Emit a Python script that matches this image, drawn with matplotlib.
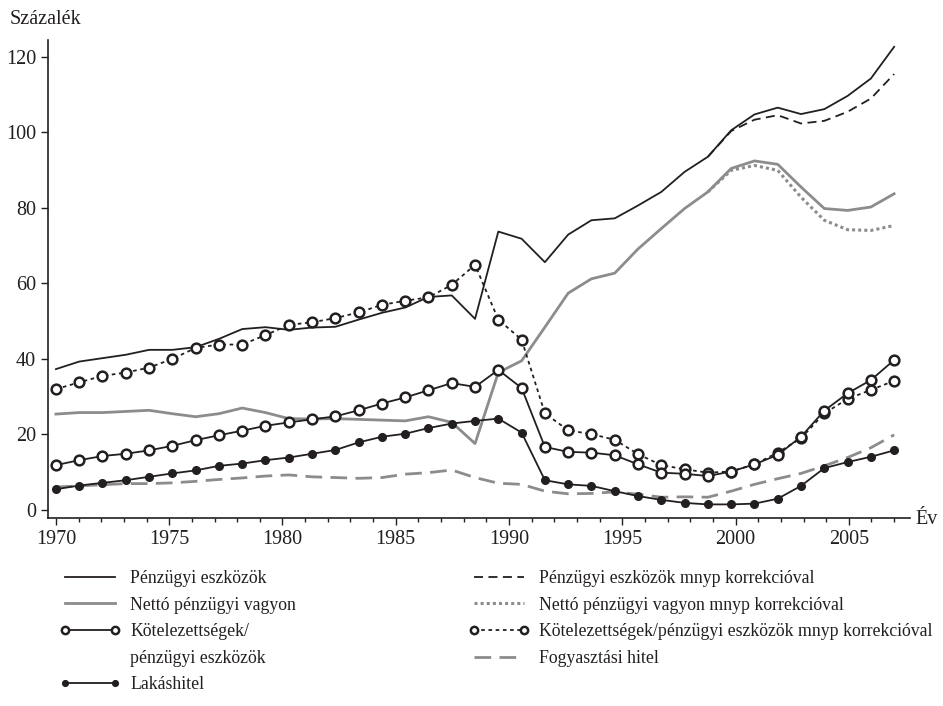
import numpy as np
import matplotlib
matplotlib.use("Agg")
import matplotlib.pyplot as plt
from matplotlib.lines import Line2D

plt.rcParams['font.family'] = ['Liberation Serif', 'DejaVu Serif']

# 37 megfigyelés, a tengelyen 1970 és 2007 között kirajzolva
evek = np.arange(1970, 2007)

penzugyi_eszk = [37.3, 39.3, 40.2, 41.1, 42.4, 42.4, 43.1, 45.3, 47.9, 48.4,
                 47.7, 48.3, 48.5, 50.4, 52.2, 53.6, 56.4, 56.8, 50.6, 73.7,
                 71.8, 65.6, 72.9, 76.7, 77.2, 80.6, 84.2, 89.5, 93.5, 100.5,
                 104.7, 106.5, 104.8, 106.1, 109.6, 114.2, 122.6]
penzugyi_eszk_mnyp = [np.nan] * 28 + [93.5, 100.3, 103.3, 104.5, 102.3, 103.0,
                                      105.4, 108.9, 115.4]
netto_vagyon = [25.4, 25.8, 25.8, 26.1, 26.4, 25.5, 24.7, 25.5, 27.0, 25.8,
                24.2, 24.1, 24.2, 24.0, 23.8, 23.6, 24.7, 23.2, 17.6, 36.4,
                39.5, 48.4, 57.4, 61.2, 62.7, 69.1, 74.5, 79.8, 84.2, 90.4,
                92.4, 91.5, 85.5, 79.8, 79.3, 80.2, 83.7]
netto_vagyon_mnyp = [np.nan] * 28 + [84.2, 89.9, 91.2, 89.9, 82.8, 76.7, 74.2,
                                     74.0, 75.3]
kotelezettseg = [11.9, 13.2, 14.3, 14.9, 15.8, 17.0, 18.5, 19.8, 21.0, 22.3,
                 23.2, 24.0, 24.8, 26.4, 28.2, 29.8, 31.7, 33.6, 32.6, 37.1,
                 32.3, 16.7, 15.4, 15.2, 14.5, 12.1, 9.9, 9.6, 9.0, 10.2,
                 12.1, 14.6, 19.4, 26.3, 30.9, 34.4, 39.7]
kotelezettseg_mnyp = [32.0, 33.8, 35.5, 36.4, 37.7, 40.0, 42.9, 43.8, 43.8, 46.3,
                      49.0, 49.7, 50.8, 52.3, 54.3, 55.4, 56.3, 59.6, 64.9, 50.4,
                      45.1, 25.6, 21.1, 20.1, 18.6, 14.8, 11.9, 10.8, 9.9, 10.2,
                      12.1, 15.2, 19.0, 25.6, 29.4, 31.8, 34.2]
lakashitel = [5.5, 6.5, 7.2, 7.9, 8.8, 9.7, 10.5, 11.7, 12.3, 13.2,
              13.9, 14.9, 15.9, 17.9, 19.4, 20.2, 21.7, 22.9, 23.6, 24.2,
              20.5, 7.9, 6.8, 6.4, 5.0, 3.7, 2.7, 1.9, 1.5, 1.5,
              1.7, 3.0, 6.4, 11.1, 12.7, 14.1, 15.8]
fogyasztasi = [6.1, 6.4, 6.7, 7.0, 7.0, 7.2, 7.6, 8.1, 8.5, 9.0,
               9.3, 8.8, 8.6, 8.4, 8.6, 9.5, 9.9, 10.6, 8.6, 7.1,
               6.8, 5.0, 4.3, 4.4, 4.8, 4.2, 3.4, 3.5, 3.4, 5.0,
               6.8, 8.3, 9.7, 11.7, 13.9, 16.5, 19.9]

fekete = '#231f20'
szurke = '#8c8c8c'

# a pontok 1970-től 2007-ig egyenletesen elosztva
x = 1970 + (evek - 1970) * 37 / 36

fig = plt.figure(figsize=(9.43, 7.06), dpi=100)
ax = fig.add_axes([48 / 943, 1 - 518 / 706, (910 - 48) / 943, (518 - 40) / 706])

l1, = ax.plot(x, penzugyi_eszk, color=fekete, lw=1.3)
l5, = ax.plot(x, penzugyi_eszk_mnyp, color=fekete, lw=1.3, linestyle=(0, (5, 3)))
l2, = ax.plot(x, netto_vagyon, color=szurke, lw=2.0)
l6, = ax.plot(x, netto_vagyon_mnyp, color=szurke, lw=2.2, linestyle=(0, (1, 1)))
l8, = ax.plot(x, fogyasztasi, color=szurke, lw=2.0, linestyle=(0, (6, 3)))
l4, = ax.plot(x, lakashitel, color=fekete, lw=1.3, marker='o', ms=5.5)
l7, = ax.plot(x, kotelezettseg_mnyp, color=fekete, lw=1.3, linestyle=(0, (2, 2)),
              marker='o', ms=7, mfc='white', mew=1.8)
l3, = ax.plot(x, kotelezettseg, color=fekete, lw=1.3, marker='o', ms=7,
              mfc='white', mew=1.8)

ax.set_xlim(1969.65, 2007.7)
ax.set_ylim(-2.1, 124.4)
ax.spines['top'].set_visible(False)
ax.spines['right'].set_visible(False)
ax.spines['left'].set_color(fekete)
ax.spines['bottom'].set_color(fekete)
ax.spines['left'].set_linewidth(1.2)
ax.spines['bottom'].set_linewidth(1.2)

ax.set_yticks([0, 20, 40, 60, 80, 100, 120])
ax.set_xticks(range(1970, 2006, 5))
ax.set_xticks(range(1970, 2008), minor=True)
ax.tick_params(axis='both', which='major', labelsize=14.5, color=fekete,
               labelcolor=fekete, length=5, width=1)
ax.tick_params(axis='x', which='minor', length=3, width=1, color=fekete)
ax.tick_params(axis='x', which='major', pad=4)

fig.text(10 / 943, 1 - 20 / 706, 'Százalék', fontsize=14.5, color=fekete, va='center')
fig.text(915 / 943, 1 - 520 / 706, 'Év', fontsize=14.5, color=fekete, va='center')

# a kétsoros felirat második sora üres jelölővel
ures = Line2D([], [], color='none')
bal = [l1, l2, l3, ures, l4]
bal_cimke = ['Pénzügyi eszközök', 'Nettó pénzügyi vagyon',
             'Kötelezettségek/', 'pénzügyi eszközök', 'Lakáshitel']
jobb = [l5, l6, l7, l8]
jobb_cimke = ['Pénzügyi eszközök mnyp korrekcióval',
              'Nettó pénzügyi vagyon mnyp korrekcióval',
              'Kötelezettségek/pénzügyi eszközök mnyp korrekcióval',
              'Fogyasztási hitel']

kozos = dict(frameon=False, fontsize=12.8, handlelength=3.4, handletextpad=0.55,
             labelspacing=0.54, numpoints=2, loc='upper left', markerscale=0.75,
             borderaxespad=0, borderpad=0, labelcolor=fekete)
lg1 = fig.legend(bal, bal_cimke, bbox_to_anchor=(60 / 943, 1 - 570 / 706), **kozos)
lg2 = fig.legend(jobb, jobb_cimke, bbox_to_anchor=(469 / 943, 1 - 570 / 706), **kozos)

fig.savefig('out.png', dpi=100)
